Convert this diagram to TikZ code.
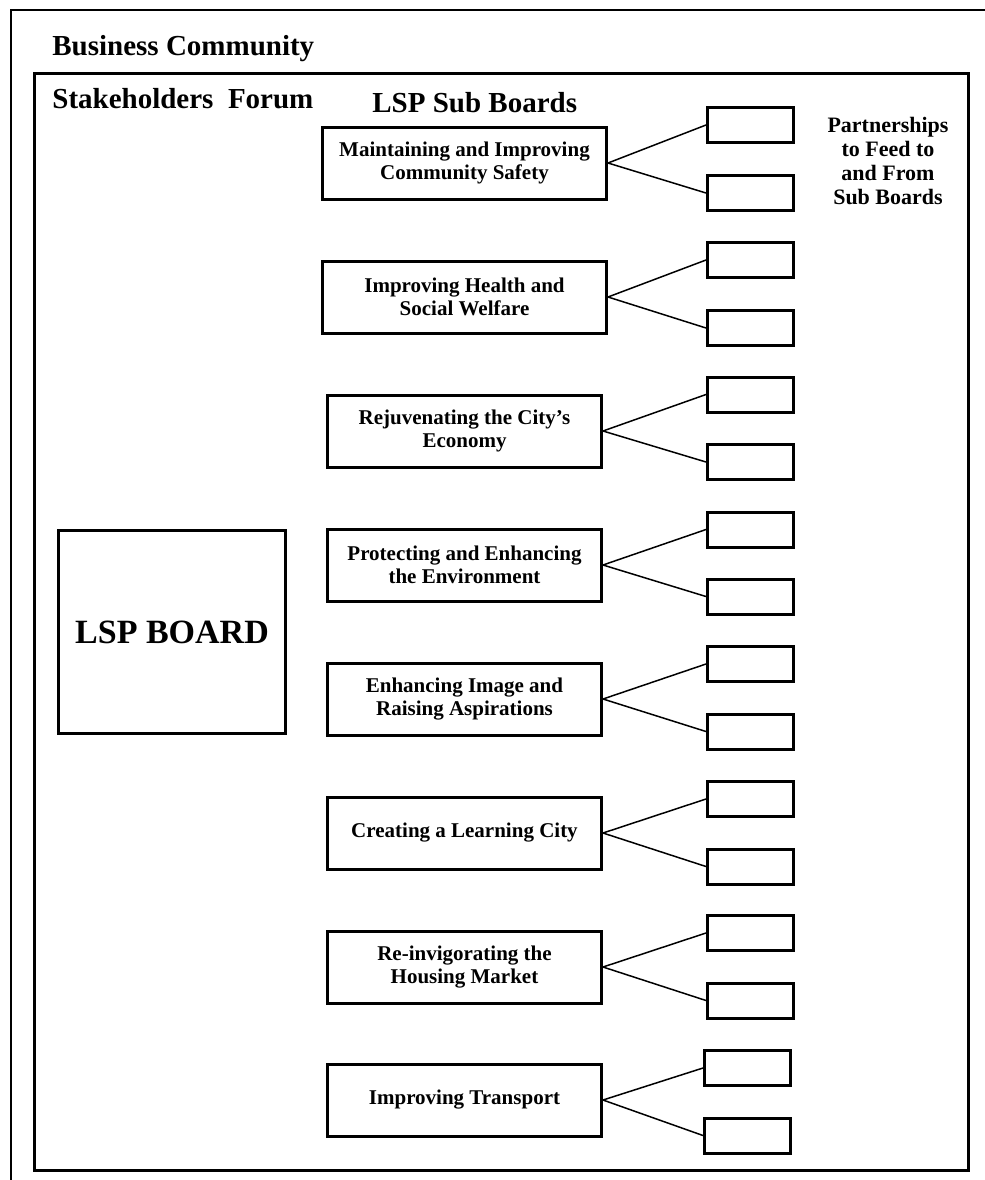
\documentclass[tikz,border=0pt]{standalone}
\usepackage{fontspec}
\setmainfont{Liberation Serif}
\usetikzlibrary{positioning}
\tikzstyle{subboard} = [rectangle, draw, line width=1.5pt, minimum width=142pt, minimum height=36pt, inner sep=0pt, align=center, font=\fontsize{10.5}{11.5}\selectfont\bfseries]
\tikzstyle{partner} = [rectangle, draw, line width=1.5pt, minimum width=43pt, minimum height=17.5pt, inner sep=0pt]
\tikzstyle{link} = [line width=0.75pt]
\tikzstyle{heading} = [anchor=base west, inner sep=0pt, font=\fontsize{14.5}{17}\selectfont\bfseries]

\begin{document}
\begin{tikzpicture}[x=0.5pt,y=-0.5pt]
        \clip (0,0) rectangle (985,1180);
        \fill[white] (0,0) rectangle (985,1180);

        % outer and inner frames
        \draw[line width=1pt] (11,10) rectangle (1010,1200);
        \draw[line width=1.5pt] (34,73) rectangle (968,1170);

        \node[heading] (BC) at (52,55) {Business Community};
        \node[heading] (SF) at (52,108) {Stakeholders\ \ Forum};
        \node[heading] (SB) at (372,112) {LSP Sub\ Boards};

        \node at (888,161) [align=center, inner sep=0pt, font=\fontsize{11}{12}\selectfont\bfseries] (PT) {Partnerships\\to Feed to\\and From\\Sub Boards};

        \node at (172,632) [rectangle, draw, line width=1.5pt, minimum width=113.5pt, minimum height=101.5pt, font=\fontsize{17}{20}\selectfont\bfseries] (LSP) {LSP BOARD};

        % sub boards
        \node at (464.5,163) [subboard] (S1) {Maintaining and Improving\\Community Safety};
        \node at (464.5,297) [subboard] (S2) {Improving Health and\\Social Welfare};
        \node at (464.5,431) [subboard, minimum width=137pt] (S3) {Rejuvenating the City's\\Economy};
        \node at (464.5,565) [subboard, minimum width=137pt] (S4) {Protecting and Enhancing\\the Environment};
        \node at (464.5,699) [subboard, minimum width=137pt] (S5) {Enhancing Image and\\Raising Aspirations};
        \node at (464.5,833) [subboard, minimum width=137pt] (S6) {Creating a Learning City};
        \node at (464.5,967) [subboard, minimum width=137pt] (S7) {Re-invigorating the\\Housing Market};
        \node at (464.5,1100) [subboard, minimum width=137pt] (S8) {Improving Transport};

        % partnership boxes
        \node at (750.5,125) [partner] (P1a) {};
        \node at (750.5,193) [partner] (P1b) {};
        \node at (750.5,260) [partner] (P2a) {};
        \node at (750.5,328) [partner] (P2b) {};
        \node at (750.5,394.5) [partner] (P3a) {};
        \node at (750.5,462) [partner] (P3b) {};
        \node at (750.5,529.5) [partner] (P4a) {};
        \node at (750.5,596.5) [partner] (P4b) {};
        \node at (750.5,664) [partner] (P5a) {};
        \node at (750.5,731.5) [partner] (P5b) {};
        \node at (750.5,799) [partner] (P6a) {};
        \node at (750.5,866.5) [partner] (P6b) {};
        \node at (750.5,933) [partner] (P7a) {};
        \node at (750.5,1000.5) [partner] (P7b) {};
        \node at (747.5,1068) [partner] (P8a) {};
        \node at (747.5,1135.5) [partner] (P8b) {};

        \draw[link] (S1.east) -- (P1a.west);
        \draw[link] (S1.east) -- (P1b.west);
        \draw[link] (S2.east) -- (P2a.west);
        \draw[link] (S2.east) -- (P2b.west);
        \draw[link] (S3.east) -- (P3a.west);
        \draw[link] (S3.east) -- (P3b.west);
        \draw[link] (S4.east) -- (P4a.west);
        \draw[link] (S4.east) -- (P4b.west);
        \draw[link] (S5.east) -- (P5a.west);
        \draw[link] (S5.east) -- (P5b.west);
        \draw[link] (S6.east) -- (P6a.west);
        \draw[link] (S6.east) -- (P6b.west);
        \draw[link] (S7.east) -- (P7a.west);
        \draw[link] (S7.east) -- (P7b.west);
        \draw[link] (S8.east) -- (P8a.west);
        \draw[link] (S8.east) -- (P8b.west);

    \end{tikzpicture}
\end{document}
